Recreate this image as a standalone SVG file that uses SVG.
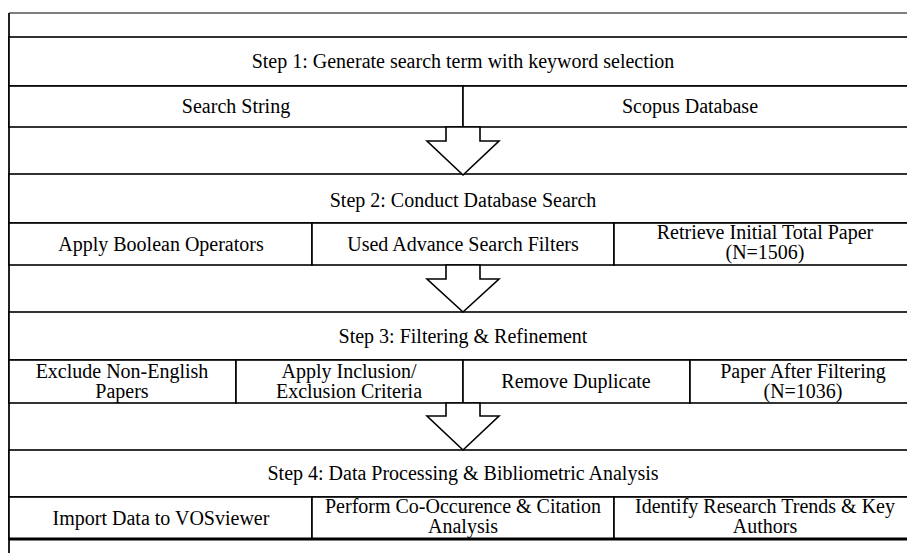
<svg xmlns="http://www.w3.org/2000/svg" width="907" height="553" viewBox="0 0 907 553">
<style>
.box{fill:#fff;stroke:#000;stroke-width:1.6}
text{font-family:'Liberation Serif','Times New Roman',Times,serif;font-size:20px;fill:#000;text-anchor:middle}
.arrow{fill:#fff;stroke:#000;stroke-width:1.6;stroke-linejoin:miter}
</style>
<rect x="0" y="0" width="907" height="553" fill="#fff"/>
<g id="frame">
<line x1="9" y1="13" x2="907" y2="13" stroke="#555" stroke-width="1.6"/>
<line x1="9" y1="13" x2="9" y2="553" stroke="#222" stroke-width="2"/>
</g>
<g font-family="Liberation Serif, serif" font-size="20" text-anchor="middle">
<g id="step1">
<rect class="box" x="9" y="37" width="910" height="49"/>
<text x="463" y="68">Step 1: Generate search term with keyword selection</text>
</g>
<g id="search-string">
<rect class="box" x="9" y="86" width="454" height="41"/>
<text x="236" y="113">Search String</text>
</g>
<g id="scopus-database">
<rect class="box" x="463" y="86" width="456" height="41"/>
<text x="690" y="113">Scopus Database</text>
</g>
<g id="step2">
<rect class="box" x="9" y="174" width="910" height="49"/>
<text x="463" y="207">Step 2: Conduct Database Search</text>
</g>
<g id="boolean">
<rect class="box" x="9" y="223" width="303" height="42"/>
<text x="161" y="251">Apply Boolean Operators</text>
</g>
<g id="advance-filters">
<rect class="box" x="312" y="223" width="302" height="42"/>
<text x="463" y="251">Used Advance Search Filters</text>
</g>
<g id="retrieve">
<rect class="box" x="614" y="223" width="305" height="42"/>
<text x="765" y="239">Retrieve Initial Total Paper</text>
<text x="765" y="259">(N=1506)</text>
</g>
<g id="step3">
<rect class="box" x="9" y="312" width="910" height="48"/>
<text x="463" y="343">Step 3: Filtering &amp; Refinement</text>
</g>
<g id="exclude">
<rect class="box" x="9" y="360" width="227" height="43"/>
<text x="122" y="378">Exclude Non-English</text>
<text x="122" y="398">Papers</text>
</g>
<g id="inclusion">
<rect class="box" x="236" y="360" width="227" height="43"/>
<text x="349" y="378">Apply Inclusion/</text>
<text x="349" y="398">Exclusion Criteria</text>
</g>
<g id="duplicate">
<rect class="box" x="463" y="360" width="227" height="43"/>
<text x="576" y="388">Remove Duplicate</text>
</g>
<g id="after-filtering">
<rect class="box" x="690" y="360" width="229" height="43"/>
<text x="803" y="378">Paper After Filtering</text>
<text x="803" y="398">(N=1036)</text>
</g>
<g id="step4">
<rect class="box" x="9" y="450" width="910" height="47"/>
<text x="463" y="480">Step 4: Data Processing &amp; Bibliometric Analysis</text>
</g>
<g id="vosviewer">
<rect class="box" x="9" y="497" width="303" height="42"/>
<text x="161" y="525">Import Data to VOSviewer</text>
</g>
<g id="cooccurrence">
<rect class="box" x="312" y="497" width="302" height="42"/>
<text x="463" y="513">Perform Co-Occurence &amp; Citation</text>
<text x="463" y="533">Analysis</text>
</g>
<g id="trends">
<rect class="box" x="614" y="497" width="305" height="42"/>
<text x="765" y="513">Identify Research Trends &amp; Key</text>
<text x="765" y="533">Authors</text>
</g>
</g>
<line x1="9" y1="539" x2="907" y2="539" stroke="#000" stroke-width="3"/>
<g id="connectors">
<polygon class="arrow" points="446,127 480,127 480,141 499,141 463,175 427,141 446,141"/>
<polygon class="arrow" points="446,265 480,265 480,279 499,279 463,312 427,279 446,279"/>
<polygon class="arrow" points="446,403 480,403 480,416 499,416 463,450 427,416 446,416"/>
</g>
</svg>
